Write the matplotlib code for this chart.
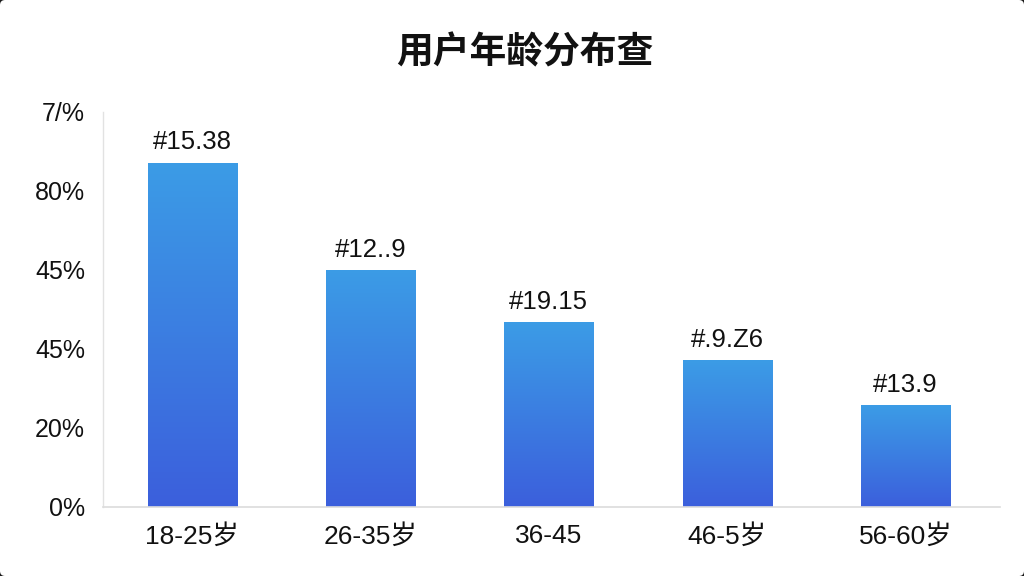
import matplotlib
matplotlib.use("Agg")
import matplotlib.pyplot as plt
import numpy as np
from matplotlib.colors import LinearSegmentedColormap
from matplotlib.patches import FancyBboxPatch

plt.rcParams['font.family'] = ['Liberation Sans', 'Noto Sans CJK SC', 'DejaVu Sans']

# data
categories = ['18-25岁', '26-35岁', '36-45', '46-5岁', '56-60岁']
values = [87.1, 60.0, 46.8, 37.2, 25.8]
bar_labels = ['#15.38', '#12..9', '#19.15', '#.9.Z6', '#13.9']
ytick_pos = [0, 20, 40, 60, 80, 100]
ytick_labels = ['0%', '20%', '45%', '45%', '80%', '7/%']

fig = plt.figure(figsize=(10.24, 5.76), dpi=100, facecolor='#1a1a1a')
# white rounded card filling the image, only the corners stay dark
card = FancyBboxPatch((0.0, 0.0), 1.0, 1.0, boxstyle='round,pad=0,rounding_size=0.005',
                      mutation_aspect=1024 / 576, transform=fig.transFigure,
                      facecolor='white', edgecolor='none', zorder=0)
fig.patches.append(card)

ax = fig.add_axes([0.1006, 0.1198, 0.876, 0.686])
ax.set_facecolor('none')
ax.set_zorder(2)

x = np.arange(len(categories))
bars = ax.bar(x, values, width=0.5, color='none', edgecolor='none', zorder=2)

cmap = LinearSegmentedColormap.from_list('blues', ['#3b5fdc', '#3c9ce6'])
grad = np.linspace(0, 1, 256).reshape(-1, 1)
for b in bars:
    x0, y0 = b.get_x(), b.get_y()
    w, h = b.get_width(), b.get_height()
    im = ax.imshow(grad, cmap=cmap, aspect='auto', origin='lower',
                   extent=[x0, x0 + w, y0, y0 + h], zorder=2)
    im.set_clip_path(b)

for xi, v, lab in zip(x, values, bar_labels):
    ax.annotate(lab, (xi, v), xytext=(0, 6), textcoords='offset points',
                ha='center', va='bottom', fontsize=18.5, color='#111111')

ax.set_xlim(-0.5, 4.53)
ax.set_ylim(0, 100)
ax.set_xticks(x)
ax.set_xticklabels(categories, fontsize=19, color='#111111')
ax.set_yticks(ytick_pos)
ax.set_yticklabels(ytick_labels, fontsize=18, color='#111111')
ax.tick_params(axis='both', length=0)
ax.tick_params(axis='y', pad=13)
ax.tick_params(axis='x', pad=12)

for s in ['top', 'right']:
    ax.spines[s].set_visible(False)
ax.spines['left'].set_color('#e2e2e2')
ax.spines['bottom'].set_color('#dcdcdc')
ax.spines['left'].set_linewidth(1.0)
ax.spines['bottom'].set_linewidth(1.2)

fig.text(0.512, 0.908, '用户年龄分布查', ha='center', va='center',
         fontsize=26.5, fontweight='bold', color='#111111',
         family=['Noto Sans CJK SC', 'DejaVu Sans'])

fig.savefig('out.png', dpi=100, facecolor=fig.get_facecolor())
